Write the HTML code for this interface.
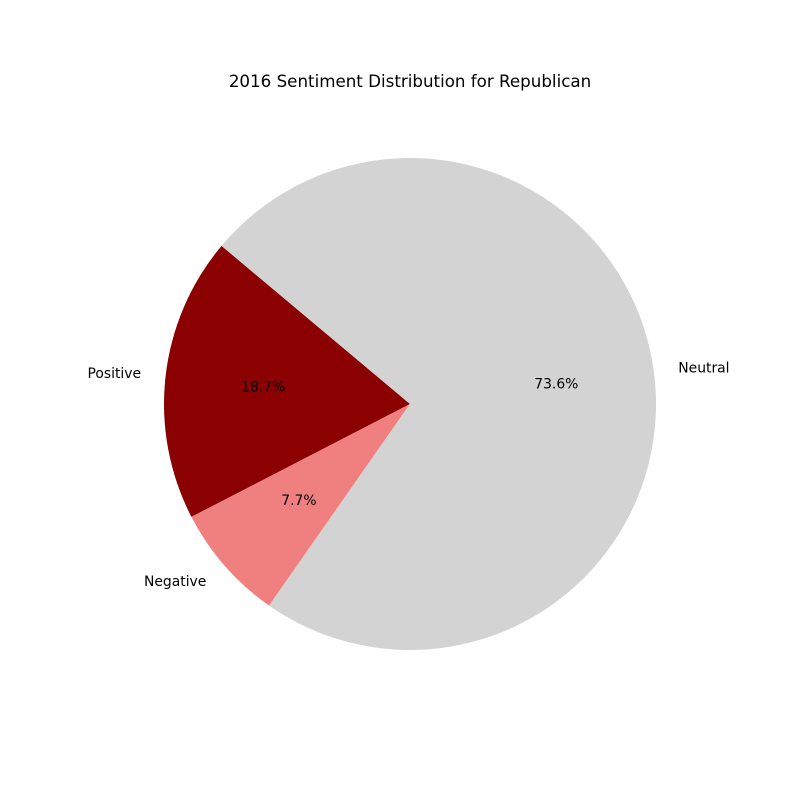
<!DOCTYPE html>
<html>
<head>
<meta charset="utf-8">
<style>
  html, body { margin:0; padding:0; background:#ffffff; }
  svg { display:block; font-family:"DejaVu Sans","Liberation Sans",sans-serif; }
</style>
</head>
<body>
<svg id="chart" width="800" height="800" viewBox="0 0 800 800">
  <rect width="800" height="800" fill="#ffffff"></rect>
  <text x="410" y="87" text-anchor="middle" font-size="16.7" fill="#000">2016 Sentiment Distribution for Republican</text>
  <g id="slices"></g>
  <g id="labels"></g>
</svg>
<script>
const categories = ["Positive", "Negative", "Neutral"];
const values = [18.7, 7.7, 73.6];
const pctLabels = ["18.7%", "7.7%", "73.6%"];
const colors = ["#8b0000", "#f08080", "#d3d3d3"];
const startAngle = 140;

const cx = 410, cy = 404, R = 246;
const NS = "http://www.w3.org/2000/svg";
const slices = document.getElementById("slices");
const labels = document.getElementById("labels");
const total = values.reduce((a, b) => a + b, 0);
function pt(deg, r) {
  const a = deg * Math.PI / 180;
  return [cx + r * Math.cos(a), cy - r * Math.sin(a)];
}
let ang = startAngle;
values.forEach((v, i) => {
  const sweep = v / total * 360;
  const a0 = ang, a1 = ang + sweep;
  const p0 = pt(a0, R), p1 = pt(a1, R);
  const large = sweep > 180 ? 1 : 0;
  const path = document.createElementNS(NS, "path");
  path.setAttribute("d", `M${cx},${cy} L${p0[0]},${p0[1]} A${R},${R} 0 ${large} 0 ${p1[0]},${p1[1]} Z`);
  path.setAttribute("fill", colors[i]);
  
  
  slices.appendChild(path);

  const mid = (a0 + a1) / 2;
  const lp = pt(mid, R * 1.1);
  const t = document.createElementNS(NS, "text");
  t.setAttribute("x", lp[0]);
  t.setAttribute("y", lp[1] + 4);
  t.setAttribute("font-size", "13.9");
  t.setAttribute("text-anchor", lp[0] < cx ? "end" : "start");
  t.textContent = categories[i];
  
  
  labels.appendChild(t);

  const pp = pt(mid, R * 0.6);
  const pt2 = document.createElementNS(NS, "text");
  pt2.setAttribute("x", pp[0]);
  pt2.setAttribute("y", pp[1] + 4);
  pt2.setAttribute("font-size", "13.9");
  pt2.setAttribute("text-anchor", "middle");
  pt2.textContent = pctLabels[i];
  
  
  labels.appendChild(pt2);

  ang = a1;
});
</script>
</body>
</html>
